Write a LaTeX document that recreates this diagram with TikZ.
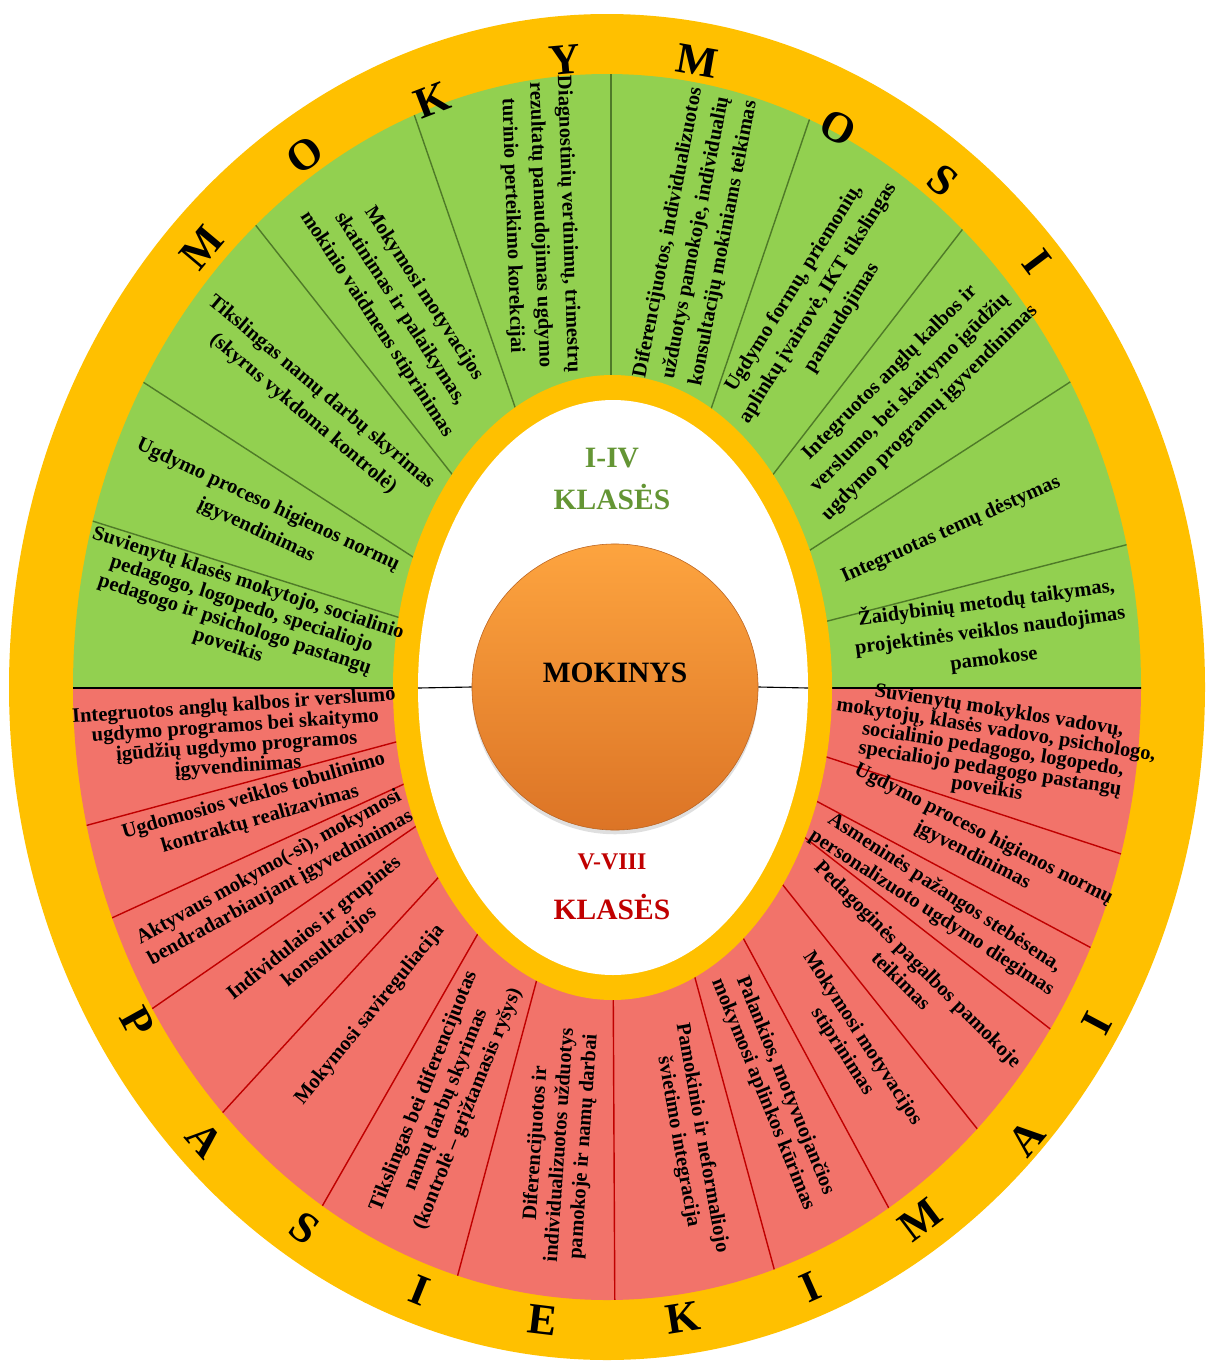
\documentclass[tikz,border=0pt]{standalone}
\usepackage{fontspec}
\setmainfont{Liberation Serif}
\usetikzlibrary{shadows}

\definecolor{geltona}{HTML}{FFC000}
\definecolor{zalia}{HTML}{92D050}
\definecolor{zaliaL}{HTML}{4F7A28}
\definecolor{zaliaT}{HTML}{649534}
\definecolor{raudona}{HTML}{F2736A}
\definecolor{raudonaL}{HTML}{C00000}
\definecolor{oranzA}{HTML}{FDA43F}
\definecolor{oranzB}{HTML}{DC7426}

\newcommand{\gfont}{\fontsize{14.6}{20pt}\selectfont\bfseries}
\newcommand{\rfont}{\fontsize{14.6}{17pt}\selectfont\bfseries}

\begin{document}
\begin{tikzpicture}[x=0.025cm,y=-0.025cm,
	gtxt/.style={align=center,font=\gfont,inner sep=0pt},
	rtxt/.style={align=center,font=\rfont,inner sep=0pt},
	gline/.style={draw=zaliaL,line width=1pt},
	rline/.style={draw=raudonaL,line width=1pt},
	raide/.style={font=\fontsize{31}{31}\selectfont\bfseries},
	klase/.style={font=\fontsize{21}{21}\selectfont\bfseries}]
	\useasboundingbox (0,0) rectangle (1209,1361);

	\fill[geltona] (607,687) ellipse [x radius=598, y radius=673];
	\begin{scope}
		\clip (607,687) ellipse [x radius=534, y radius=613];
		\fill[zalia] (0,0) rectangle (1209,688);
		\fill[raudona] (0,688) rectangle (1209,1361);
		% I-IV
		\draw[gline] (611,40) -- (611,400);
		\draw[gline] (395,59) -- (535,465);
		\draw[gline] (220,180) -- (485,516);
		\draw[gline] (89,347) -- (467,592);
		\draw[gline] (32,502) -- (461,637);
		\draw[gline] (830,59) -- (692,465);
		\draw[gline] (1006,173) -- (734,525);
		\draw[gline] (1132,342) -- (756,585);
		\draw[gline] (1200,526) -- (765,637);
		% V-VIII
		\draw[rline] (25,842) -- (459,725);
		\draw[rline] (55,944) -- (463,757);
		\draw[rline] (101,1044) -- (467,791);
		\draw[rline] (180,1159) -- (481,831);
		\draw[rline] (292,1259) -- (508,881);
		\draw[rline] (442,1334) -- (552,923);
		\draw[rline] (615,1340) -- (613,950);
		\draw[rline] (791,1331) -- (679,919);
		\draw[rline] (919,1264) -- (714,884);
		\draw[rline] (1022,1185) -- (743,835);
		\draw[rline] (1108,1074) -- (758,801);
		\draw[rline] (1157,983) -- (760,771);
		\draw[rline] (1194,878) -- (766,737);
		\draw[line width=1pt] (0,688) -- (1209,688);
	\end{scope}
	\fill[geltona] (612.5,687.5) ellipse [x radius=219.5, y radius=312.5];
	\fill[white] (613,687.5) ellipse [x radius=195, y radius=287.5];

	\node[circle,minimum size=7.15cm,inner sep=0pt,top color=oranzA,bottom color=oranzB,
		draw=oranzB!85!black,line width=0.4pt,
		drop shadow={opacity=0.25,shadow xshift=0pt,shadow yshift=-3pt}] (mokinys) at (615,687) {};
	\node[font=\fontsize{21}{21}\selectfont\bfseries] (mokinysT) at (615,673) {MOKINYS};
	\draw[line width=0.8pt] (418,688) -- (mokinys.west);
	\draw[line width=0.8pt] (mokinys.east) -- (808,688);

	\node[klase,text=zaliaT] (k1a) at (612,458) {I-IV};
	\node[klase,text=zaliaT] (k1b) at (612,497) {KLASĖS};
	\node[klase,text=raudonaL,font=\fontsize{17}{17}\selectfont\bfseries] (k2a) at (612,862) {V-VIII};
	\node[klase,text=raudonaL] (k2b) at (612,907) {KLASĖS};

	\node[gtxt,rotate=-18,font=\fontsize{14.6}{15.5pt}\selectfont\bfseries] (g1) at (238,615) {Suvienytų klasės mokytojo, socialinio\\ pedagogo, logopedo, specialiojo\\ pedagogo ir psichologo pastangų\\ poveikis};
	\node[gtxt,rotate=-25] (g2) at (262,518) {Ugdymo proceso higienos normų\\ įgyvendinimas};
	\node[gtxt,rotate=-40] (g3) at (312,403) {Tikslingas namų darbų skyrimas\\ (skyrus vykdoma kontrolė)};
	\node[gtxt,rotate=-57] (g4) at (400,309) {Mokymosi motyvacijos\\ skatinimas ir palaikymas,\\ mokinio vaidmens stiprinimas};
	\node[gtxt,rotate=-88] (g5) at (540,225) {Diagnostinių vertinimų, trimestrų\\ rezultatų panaudojimas ugdymo\\ turinio perteikimo korekcijai};
	\node[gtxt,rotate=79] (g6) at (696,238) {Diferencijuotos, individualizuotos\\ užduotys pamokoje, individualių\\ konsultacijų mokiniams teikimas};
	\node[gtxt,rotate=58] (g7) at (818,303) {Ugdymo formų, priemonių,\\ aplinkų įvairovė, IKT tikslingas\\ panaudojimas};
	\node[gtxt,rotate=45] (g8) at (910,393) {Integruotos anglų kalbos ir\\ verslumo, bei skaitymo įgūdžių\\ ugdymo programų įgyvendinimas};
	\node[gtxt,rotate=24] (g9) at (951,530) {Integruotas temų dėstymas};
	\node[gtxt,rotate=7.5] (g10) at (990,630) {Žaidybinių metodų taikymas,\\ projektinės veiklos naudojimas\\ pamokose};

	\node[rtxt,rotate=4,font=\fontsize{14.6}{12.5pt}\selectfont\bfseries] (r1) at (236,737) {Integruotos anglų kalbos ir verslumo\\ ugdymo programos bei skaitymo\\ įgūdžių ugdymo programos\\ įgyvendinimas};
	\node[rtxt,rotate=16] (r2) at (257,808) {Ugdomosios veiklos tobulinimo\\ kontraktų realizavimas};
	\node[rtxt,rotate=29] (r3) at (275,878) {Aktyvaus mokymo(-si), mokymosi\\ bendradarbiaujant įgyvedninimas};
	\node[rtxt,rotate=39] (r4) at (322,938) {Individulaios ir grupinės\\ konsultacijos};
	\node[rtxt,rotate=51] (r5) at (370,1015) {Mokymosi savireguliacija};
	\node[rtxt,rotate=68] (r6) at (446,1100) {Tikslingas bei diferencijuotas\\ namų darbų skyrimas\\ (kontrolė – grįžtamasis ryšys)};
	\node[rtxt,rotate=86] (r7) at (560,1145) {Diferencijuotos ir\\ individualizuotos užduotys\\ pamokoje ir namų darbai};
	\node[rtxt,rotate=-80] (r8) at (690,1140) {Pamokinio ir neformaliojo\\ švietimo integracija};
	\node[rtxt,rotate=-68] (r9) at (774,1090) {Palankios, motyvuojančios\\ mokymosi aplinkos kūrimas};
	\node[rtxt,rotate=-57] (r10) at (852,1045) {Mokymosi motyvacijos\\ stiprinimas};
	\node[rtxt,rotate=-45] (r11) at (910,972) {Pedagoginės pagalbos pamokoje\\ teikimas};
	\node[rtxt,rotate=-33] (r12) at (938,903) {Asmeninės pažangos stebėsena,\\ personalizuoto ugdymo diegimas};
	\node[rtxt,rotate=-27] (r13) at (978,845) {Ugdymo proceso higienos normų\\ įgyvendinimas};
	\node[rtxt,rotate=-9,font=\fontsize{14.6}{14pt}\selectfont\bfseries] (r14) at (993,750) {Suvienytų mokyklos vadovų,\\ mokytojų, klasės vadovo, psichologo,\\ socialinio pedagogo, logopedo,\\ specialiojo pedagogo pastangų\\ poveikis};

	\node[raide,rotate=50] (m1) at (202,248) {M};
	\node[raide,rotate=36] (m2) at (305,155) {O};
	\node[raide,rotate=21] (m3) at (432,100) {K};
	\node[raide,rotate=5] (m4) at (565,60) {Y};
	\node[raide,rotate=-10] (m5) at (697,61) {M};
	\node[raide,rotate=-28] (m6) at (838,128) {O};
	\node[raide,rotate=-40] (m7) at (943,180) {S};
	\node[raide,rotate=-53] (m8) at (1037,262) {I};

	\node[raide,rotate=-61] (p1) at (137,1022) {P};
	\node[raide,rotate=-49] (p2) at (205,1140) {A};
	\node[raide,rotate=-36] (p3) at (305,1228) {S};
	\node[raide,rotate=-22] (p4) at (420,1290) {I};
	\node[raide,rotate=-7] (p5) at (543,1320) {E};
	\node[raide,rotate=9] (p6) at (683,1318) {K};
	\node[raide,rotate=24] (p7) at (810,1287) {I};
	\node[raide,rotate=37] (p8) at (920,1220) {M};
	\node[raide,rotate=50] (p9) at (1027,1138) {A};
	\node[raide,rotate=62] (p10) at (1097,1023) {I};
\end{tikzpicture}
\end{document}
